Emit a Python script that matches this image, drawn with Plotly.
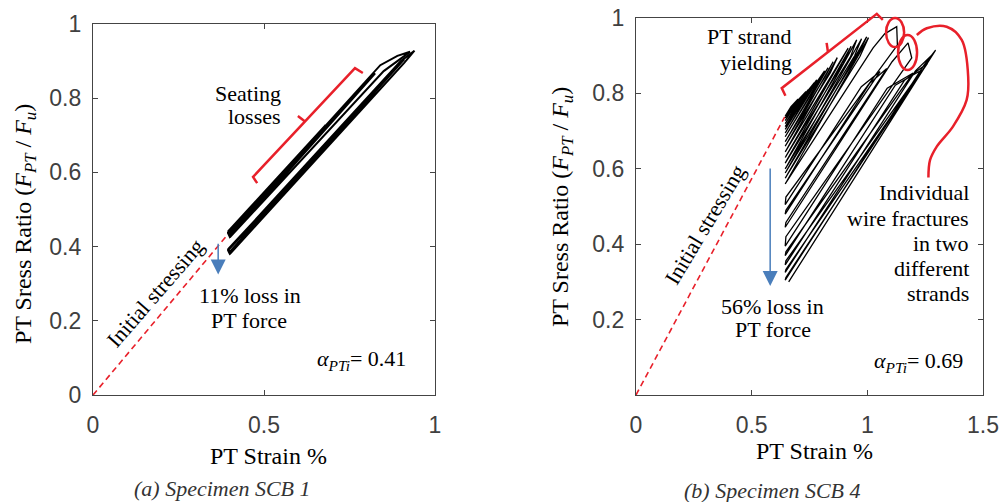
import plotly.graph_objects as go

# ---------------- DATA ----------------
# Specimen SCB 1 : initial stressing line
scb1_init_x = [0.0, 0.398]
scb1_init_y = [0.0, 0.437]
# SCB 1 upper band loops (before seating losses): vertices of each loop
scb1_upper_x = [
    [0.395, 0.600, 0.400],
    [0.396, 0.680, 0.398],
    [0.395, 0.750, 0.400],
    [0.396, 0.800, 0.400],
    [0.395, 0.825, 0.400],
    [0.395, 0.840, 0.890, 0.927, 0.850, 0.400],
]
scb1_upper_y = [
    [0.440, 0.645, 0.430],
    [0.442, 0.727, 0.432],
    [0.438, 0.796, 0.428],
    [0.440, 0.845, 0.429],
    [0.437, 0.867, 0.426],
    [0.436, 0.889, 0.914, 0.925, 0.873, 0.425],
]
# SCB 1 lower band loops (after seating losses)
scb1_lower_x = [
    [0.395, 0.620, 0.400],
    [0.396, 0.720, 0.398],
    [0.395, 0.800, 0.400],
    [0.396, 0.870, 0.400],
    [0.395, 0.910, 0.400],
    [0.395, 0.900, 0.940, 0.910, 0.400],
]
scb1_lower_y = [
    [0.392, 0.614, 0.382],
    [0.394, 0.716, 0.384],
    [0.390, 0.797, 0.381],
    [0.393, 0.867, 0.383],
    [0.391, 0.905, 0.381],
    [0.392, 0.900, 0.928, 0.895, 0.380],
]

# Specimen SCB 4 : initial stressing line
scb4_init_x = [0.0, 0.643]
scb4_init_y = [0.0, 0.738]
# SCB 4 cycles: loading path (bottom -> shoulder -> tip [-> fracture drop]) and unloading end
scb4_load_x = [
    [0.645, 0.670, 0.700], [0.645, 0.675, 0.705], [0.645, 0.697, 0.735],
    [0.645, 0.710, 0.745], [0.645, 0.731, 0.770], [0.645, 0.746, 0.781],
    [0.645, 0.775, 0.815], [0.645, 0.793, 0.830], [0.645, 0.817, 0.852],
    [0.645, 0.840, 0.870], [0.645, 0.875, 0.917], [0.645, 0.895, 0.930],
    [0.645, 0.927, 0.954], [0.645, 0.945, 0.975], [0.645, 0.961, 0.997],
    [0.645, 0.968, 1.005], [0.645, 1.025, 1.075, 1.127, 1.130],
    [0.645, 0.974, 1.055], [0.645, 1.009, 1.084],
    [0.645, 1.107, 1.176, 1.192], [0.645, 1.086, 1.198],
    [0.645, 1.121, 1.235], [0.645, 1.161, 1.260],
    [0.645, 1.208, 1.285], [0.645, 1.245, 1.295],
]
scb4_load_y = [
    [0.740, 0.765, 0.785], [0.735, 0.765, 0.785], [0.728, 0.780, 0.805],
    [0.720, 0.785, 0.810], [0.712, 0.798, 0.828], [0.705, 0.806, 0.836],
    [0.695, 0.825, 0.860], [0.685, 0.833, 0.868], [0.672, 0.844, 0.884],
    [0.660, 0.855, 0.895], [0.645, 0.875, 0.920], [0.630, 0.880, 0.925],
    [0.615, 0.897, 0.942], [0.600, 0.900, 0.945], [0.589, 0.905, 0.950],
    [0.575, 0.898, 0.948], [0.560, 0.921, 0.958, 0.977, 0.928],
    [0.505, 0.818, 0.858], [0.480, 0.826, 0.866],
    [0.445, 0.884, 0.934, 0.894], [0.395, 0.814, 0.854],
    [0.370, 0.822, 0.862], [0.345, 0.835, 0.880],
    [0.325, 0.860, 0.905], [0.305, 0.875, 0.915],
]
scb4_unload_x = [0.648] * 24 + [0.660]
scb4_unload_y = [0.737, 0.730, 0.722, 0.714, 0.707, 0.698, 0.688, 0.675, 0.663,
                 0.648, 0.633, 0.618, 0.603, 0.592, 0.578, 0.563, 0.525, 0.490,
                 0.458, 0.420, 0.380, 0.356, 0.333, 0.312, 0.300]

# annotation geometry (data units of each panel)
scb1_bracket_x = [0.480, 0.468, 0.766, 0.789]
scb1_bracket_y = [0.571, 0.588, 0.881, 0.868]
scb1_tick_x = [0.620, 0.599]
scb1_tick_y = [0.737, 0.752]
scb4_bracket_x = [0.646, 0.630, 1.041, 1.067]
scb4_bracket_y = [0.794, 0.814, 1.011, 0.995]
scb4_tick_x = [0.830, 0.824]
scb4_tick_y = [0.909, 0.934]
scb4_ellipse1 = [1.081, 1.159, 0.923, 1.000]
scb4_ellipse2 = [1.133, 1.215, 0.862, 0.955]
scb4_leader_x = [1.214, 1.257, 1.343, 1.408, 1.436, 1.429, 1.370, 1.300, 1.271, 1.264]
scb4_leader_y = [0.955, 0.973, 0.977, 0.942, 0.844, 0.782, 0.712, 0.659, 0.623, 0.577]

# ---------------- LAYOUT CONSTANTS ----------------
X1_DOM, Y1_DOM = [0.093, 0.435], [0.2131, 0.9522]
X2_DOM, Y2_DOM = [0.636, 0.983], [0.2131, 0.9641]
X1_R, Y1_R = [0, 1], [0, 1]
X2_R, Y2_R = [0, 1.5], [0, 1]
RED = "#e8202a"
BLUE = "#4a7ebb"
SERIF = "Liberation Serif, Times New Roman, serif"
SANS = "Liberation Sans, Arial, sans-serif"


def to_paper(x, y, xd, yd, xr, yr):
    return (xd[0] + (x - xr[0]) / (xr[1] - xr[0]) * (xd[1] - xd[0]),
            yd[0] + (y - yr[0]) / (yr[1] - yr[0]) * (yd[1] - yd[0]))


def band_path(xs_list, ys_list):
    xs, ys = [], []
    for lx, ly in zip(xs_list, ys_list):
        xs += lx
        ys += ly
    return xs, ys


def cycle_path(lxs, lys, uxs, uys):
    xs, ys = [], []
    for lx, ly, ux, uy in zip(lxs, lys, uxs, uys):
        xs += lx + [ux]
        ys += ly + [uy]
    return xs, ys


fig = go.Figure()

# ---- SCB 1 ----
fig.add_trace(go.Scatter(x=scb1_init_x, y=scb1_init_y, mode="lines",
                         line=dict(color=RED, width=1.6, dash="6px,4px"),
                         xaxis="x", yaxis="y", showlegend=False))
ux, uy = band_path(scb1_upper_x, scb1_upper_y)
fig.add_trace(go.Scatter(x=ux, y=uy, mode="lines", line=dict(color="black", width=2),
                         xaxis="x", yaxis="y", showlegend=False))
lx, ly = band_path(scb1_lower_x, scb1_lower_y)
fig.add_trace(go.Scatter(x=lx, y=ly, mode="lines", line=dict(color="black", width=2),
                         xaxis="x", yaxis="y", showlegend=False))

# ---- SCB 4 ----
fig.add_trace(go.Scatter(x=scb4_init_x, y=scb4_init_y, mode="lines",
                         line=dict(color=RED, width=1.6, dash="6px,4px"),
                         xaxis="x2", yaxis="y2", showlegend=False))
cx, cy = cycle_path(scb4_load_x, scb4_load_y, scb4_unload_x, scb4_unload_y)
fig.add_trace(go.Scatter(x=cx, y=cy, mode="lines", line=dict(color="black", width=1.3),
                         xaxis="x2", yaxis="y2", showlegend=False))
fig.add_trace(go.Scatter(x=scb4_leader_x, y=scb4_leader_y, mode="lines",
                         line=dict(color=RED, width=2.5, shape="spline"),
                         xaxis="x2", yaxis="y2", showlegend=False))


def path_from(xs, ys, xd, yd, xr, yr):
    pts = [to_paper(a, b, xd, yd, xr, yr) for a, b in zip(xs, ys)]
    return "M " + " L ".join(f"{p[0]:.5f},{p[1]:.5f}" for p in pts)


shapes = []
for bx, by, tx, ty, xd, yd, xr, yr in [
    (scb1_bracket_x, scb1_bracket_y, scb1_tick_x, scb1_tick_y, X1_DOM, Y1_DOM, X1_R, Y1_R),
    (scb4_bracket_x, scb4_bracket_y, scb4_tick_x, scb4_tick_y, X2_DOM, Y2_DOM, X2_R, Y2_R),
]:
    shapes.append(dict(type="path", xref="paper", yref="paper",
                       path=path_from(bx, by, xd, yd, xr, yr),
                       line=dict(color=RED, width=2.5)))
    shapes.append(dict(type="path", xref="paper", yref="paper",
                       path=path_from(tx, ty, xd, yd, xr, yr),
                       line=dict(color=RED, width=2.5)))
for e in (scb4_ellipse1, scb4_ellipse2):
    x0, y0 = to_paper(e[0], e[2], X2_DOM, Y2_DOM, X2_R, Y2_R)
    x1, y1 = to_paper(e[1], e[3], X2_DOM, Y2_DOM, X2_R, Y2_R)
    shapes.append(dict(type="circle", xref="paper", yref="paper",
                       x0=x0, x1=x1, y0=y0, y1=y1,
                       line=dict(color=RED, width=2.5)))

ann = []


def txt(text, x, y, xref, yref, xanchor="center", size=22, angle=0, color="black"):
    ann.append(dict(text=text, x=x, y=y, xref=xref, yref=yref, xanchor=xanchor,
                    yanchor="middle", showarrow=False, textangle=angle,
                    font=dict(family=SERIF, size=size, color=color)))


txt("Seating", 0.556, 0.814, "x", "y", "right")
txt("losses", 0.556, 0.752, "x", "y", "right")
txt("11% loss in", 0.459, 0.268, "x", "y")
txt("PT force", 0.456, 0.201, "x", "y")
txt("<i>α</i><sub><i>PTi</i></sub>= 0.41", 0.921, 0.094, "x", "y", "right")
txt("Initial stressing", 0.184, 0.275, "x", "y", angle=-49)

txt("PT strand", 0.683, 0.950, "x2", "y2", "right")
txt("yielding", 0.683, 0.883, "x2", "y2", "right")
txt("Initial stressing", 0.300, 0.451, "x2", "y2", angle=-59)
txt("56% loss in", 0.592, 0.236, "x2", "y2")
txt("PT force", 0.592, 0.173, "x2", "y2")
for line, yy in zip(["Individual", "wire fractures", "in two", "different", "strands"],
                    [0.536, 0.467, 0.402, 0.336, 0.268]):
    txt(line, 1.448, yy, "x2", "y2", "right")
txt("<i>α</i><sub><i>PTi</i></sub>= 0.69", 1.422, 0.0875, "x2", "y2", "right")

ytitle = "PT Sress Ratio (<i>F</i><sub><i>PT</i></sub> / <i>F</i><sub><i>u</i></sub>)"
txt(ytitle, 0.025, 0.5538, "paper", "paper", size=24, angle=-90)
txt(ytitle, 0.562, 0.5876, "paper", "paper", size=24, angle=-90)
txt("PT Strain %", 0.268, 0.0916, "paper", "paper", size=24)
txt("PT Strain %", 0.814, 0.1006, "paper", "paper", size=24)
txt("<i>(a) Specimen SCB 1</i>", 0.222, 0.0259, "paper", "paper", size=22, color="#333333")
txt("<i>(b) Specimen SCB 4</i>", 0.772, 0.0239, "paper", "paper", size=22, color="#333333")

for xa, ya_t, ya_h, xr_, yr_ in [(0.366, 0.412, 0.325, "x", "y"), (0.580, 0.605, 0.289, "x2", "y2")]:
    ann.append(dict(text="", x=xa, y=ya_h, ax=xa, ay=ya_t, xref=xr_, yref=yr_,
                    axref=xr_, ayref=yr_, showarrow=True, arrowhead=2, arrowsize=2,
                    arrowwidth=1.5, arrowcolor=BLUE, standoff=0))

axis_common = dict(showline=True, linecolor="#444444", linewidth=1.2, mirror="ticks",
                   ticks="inside", ticklen=5, tickcolor="#444444", tickwidth=1,
                   showgrid=False, zeroline=False, automargin=False,
                   tickfont=dict(family=SANS, size=23, color="#404040"))

fig.update_layout(
    template="none",
    width=1000, height=502, margin=dict(l=0, r=0, t=0, b=0, pad=0),
    paper_bgcolor="white", plot_bgcolor="white", showlegend=False,
    xaxis=dict(domain=X1_DOM, range=X1_R, tickvals=[0, 0.5, 1], ticktext=["0", "0.5", "1"],
               anchor="y", ticklabelstandoff=9, **axis_common),
    yaxis=dict(domain=Y1_DOM, range=Y1_R, tickvals=[0, 0.2, 0.4, 0.6, 0.8, 1],
               ticktext=["0", "0.2", "0.4", "0.6", "0.8", "1"], anchor="x",
               ticklabelstandoff=6, **axis_common),
    xaxis2=dict(domain=X2_DOM, range=X2_R, tickvals=[0, 0.5, 1, 1.5],
                ticktext=["0", "0.5", "1", "1.5"], anchor="y2", ticklabelstandoff=9,
                **axis_common),
    yaxis2=dict(domain=Y2_DOM, range=Y2_R, tickvals=[0.2, 0.4, 0.6, 0.8, 1],
                ticktext=["0.2", "0.4", "0.6", "0.8", "1"], anchor="x2",
                ticklabelstandoff=6, **axis_common),
    shapes=shapes, annotations=ann,
)

fig.write_html("out.html", config={"displayModeBar": False},
               post_script="document.body.style.margin='0px';"
                           "document.documentElement.style.overflow='hidden';")
